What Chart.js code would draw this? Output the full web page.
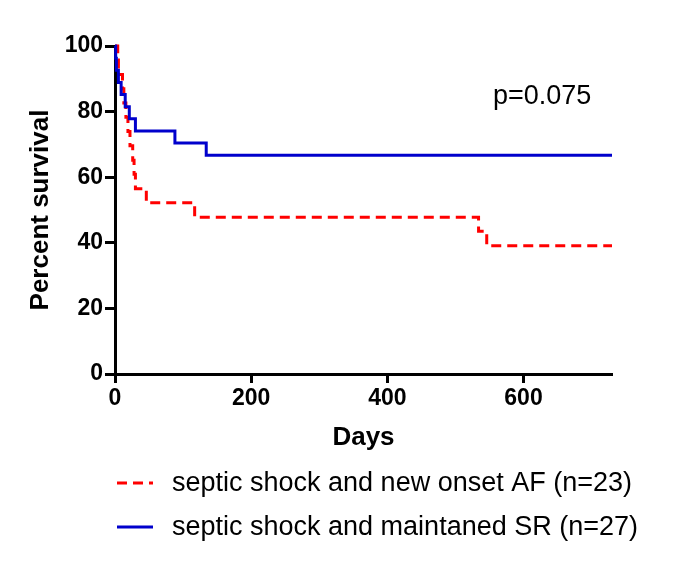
<!DOCTYPE html>
<html>
<head>
<meta charset="utf-8">
<script src="https://cdn.jsdelivr.net/npm/chart.js@4"></script>
<style>
  html, body { margin: 0; padding: 0; background: #fff; }
  canvas { display: block; }
</style>
</head>
<body>
<canvas id="c" width="685" height="565"></canvas>
<script>
// ---- data ----
const afLabel = 'septic shock and new onset AF (n=23)';
const afDays = [0, 4, 5, 11, 13, 16, 19, 22, 26, 28, 30, 46, 117, 534, 546, 730];
const afSurv = [100, 95.7, 91.3, 87.0, 82.6, 78.3, 73.9, 69.6, 65.2, 60.9, 56.5, 52.2, 47.8, 43.5, 39.1, 39.1];

const srLabel = 'septic shock and maintaned SR (n=27)';
const srDays = [0, 1, 2, 5, 9, 15, 21, 30, 88, 134, 730];
const srSurv = [100, 96.3, 92.6, 88.9, 85.2, 81.5, 77.8, 74.1, 70.4, 66.7, 66.7];

const xTicks = [0, 200, 400, 600];
const yTicks = [0, 20, 40, 60, 80, 100];
const xTitle = 'Days';
const yTitle = 'Percent survival';
const pText = 'p=0.075';

const FONT = "'Liberation Sans', Arial, Helvetica, sans-serif";
const RED = 'rgb(255,0,0)';
const BLUE = 'rgb(0,0,204)';

const toPts = (xs, ys) => xs.map((x, i) => ({ x: x, y: ys[i] }));

const extras = {
  id: 'extras',
  afterDraw(chart) {
    const ctx = chart.ctx;
    ctx.save();
    // p-value annotation
    ctx.fillStyle = '#000';
    ctx.font = '27px ' + FONT;
    ctx.textBaseline = 'middle';
    ctx.textAlign = 'left';
    ctx.fillText(pText, 493, 97);
    // legend
    const rows = [483, 527];
    const order = [0, 1];
    order.forEach((di, r) => {
      const ds = chart.data.datasets[di];
      const y = rows[r];
      ctx.beginPath();
      ctx.strokeStyle = ds.borderColor;
      ctx.lineWidth = 3;
      ctx.setLineDash(ds.borderDash || []);
      ctx.moveTo(117, y);
      ctx.lineTo(153, y);
      ctx.stroke();
      ctx.setLineDash([]);
      ctx.fillStyle = '#000';
      ctx.font = '27px ' + FONT;
      ctx.textBaseline = 'middle';
      ctx.fillText(ds.label, 172, y + 1);
    });
    ctx.restore();
  }
};

new Chart(document.getElementById('c'), {
  type: 'line',
  data: {
    datasets: [
      {
        label: afLabel,
        data: toPts(afDays, afSurv),
        borderColor: RED,
        borderWidth: 3,
        borderDash: [10, 6],
        stepped: 'before',
        pointRadius: 0,
        fill: false,
        clip: false,
        order: 2
      },
      {
        label: srLabel,
        data: toPts(srDays, srSurv),
        borderColor: BLUE,
        borderWidth: 3,
        stepped: 'before',
        pointRadius: 0,
        fill: false,
        clip: false,
        order: 1
      }
    ]
  },
  options: {
    responsive: false,
    animation: false,
    devicePixelRatio: 1,
    layout: { padding: { left: 15, top: 46, right: 73, bottom: 111 } },
    plugins: { legend: { display: false }, tooltip: { enabled: false } },
    scales: {
      x: {
        type: 'linear',
        min: 0,
        max: 730,
        afterBuildTicks: (s) => { s.ticks = xTicks.map(v => ({ value: v })); },
        afterFit: (s) => { s.height = 80; },
        border: { display: true, color: '#000', width: 3 },
        grid: { display: true, drawOnChartArea: false, drawTicks: true, tickLength: 9, tickColor: '#000', tickWidth: 3 },
        ticks: { color: '#000', padding: 2, font: { family: FONT, size: 23, weight: 'bold' }, maxRotation: 0 },
        title: { display: true, text: xTitle, color: '#000', font: { family: FONT, size: 26, weight: 'bold' }, padding: { top: 0, bottom: 1 } }
      },
      y: {
        min: 0,
        max: 100,
        afterBuildTicks: (s) => { s.ticks = yTicks.map(v => ({ value: v })); },
        afterFit: (s) => { s.width = 100; },
        border: { display: true, color: '#000', width: 3 },
        grid: { display: true, drawOnChartArea: false, drawTicks: true, tickLength: 10, tickColor: '#000', tickWidth: 3 },
        ticks: { color: '#000', padding: 2, font: { family: FONT, size: 23, weight: 'bold' } },
        title: { display: true, text: yTitle, color: '#000', font: { family: FONT, size: 26, weight: 'bold' }, padding: { top: 10, bottom: 0 } }
      }
    }
  },
  plugins: [extras]
});
</script>
</body>
</html>
